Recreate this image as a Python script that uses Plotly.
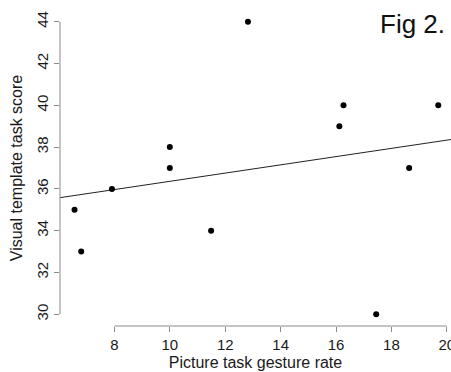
import numpy as np
import plotly.graph_objects as go

gesture_rate = [6.56, 6.80, 7.91, 10.0, 10.0, 11.49, 12.82, 16.27, 16.12, 19.69, 18.64, 17.45]
task_score = [35, 33, 36, 38, 37, 34, 44, 40, 39, 40, 37, 30]
x_ticks = [8, 10, 12, 14, 16, 18, 20]
y_ticks = [30, 32, 34, 36, 38, 40, 42, 44]

x_range = [6.035, 20.15]
y_range = [29.44, 44.56]

slope, intercept = np.polyfit(gesture_rate, task_score, 1)
fit_x = np.array(x_range)
fit_y = intercept + slope * fit_x

AX = "#8a8a8a"
FONT = "Liberation Sans, Arial, sans-serif"

fig = go.Figure()
fig.add_trace(go.Scatter(x=fit_x, y=fit_y, mode="lines",
                         line=dict(color="#222222", width=1), hoverinfo="skip"))
fig.add_trace(go.Scatter(x=gesture_rate, y=task_score, mode="markers",
                         marker=dict(color="black", size=6)))

fig.update_layout(
    width=451, height=372,
    margin=dict(l=60, r=0, t=10, b=46, autoexpand=False),
    paper_bgcolor="white", plot_bgcolor="white",
    showlegend=False,
    font=dict(family=FONT, color="#1a1a1a"),
    xaxis=dict(range=x_range, tickvals=x_ticks, ticks="outside", ticklen=5,
               tickcolor=AX, tickwidth=1, showgrid=False, zeroline=False,
               showline=False, tickfont=dict(size=15), ticklabeloverflow="allow",
               automargin=False,
               title=dict(text="Picture task gesture rate", font=dict(size=16), standoff=4)),
    yaxis=dict(range=y_range, tickvals=y_ticks, ticks="outside", ticklen=5,
               tickcolor=AX, tickwidth=1, showgrid=False, zeroline=False,
               showline=False, tickangle=-90, tickfont=dict(size=15), automargin=False,
               title=dict(text="Visual template task score", font=dict(size=16), standoff=7)),
    shapes=[
        dict(type="line", xref="x", yref="paper", x0=x_ticks[0], x1=x_ticks[-1], y0=0, y1=0,
             line=dict(color=AX, width=1)),
        dict(type="line", xref="paper", yref="y", x0=0, x1=0, y0=y_ticks[0], y1=y_ticks[-1],
             line=dict(color=AX, width=1)),
    ],
    annotations=[dict(text="Fig 2.", xref="paper", yref="paper", x=0.99, y=0.956,
                      xanchor="right", yanchor="middle", showarrow=False,
                      font=dict(size=26, color="#111111", family=FONT))],
)

fig.write_html("out.html", config={"displayModeBar": False},
               post_script="document.body.style.margin='0';document.body.style.overflow='hidden';")
